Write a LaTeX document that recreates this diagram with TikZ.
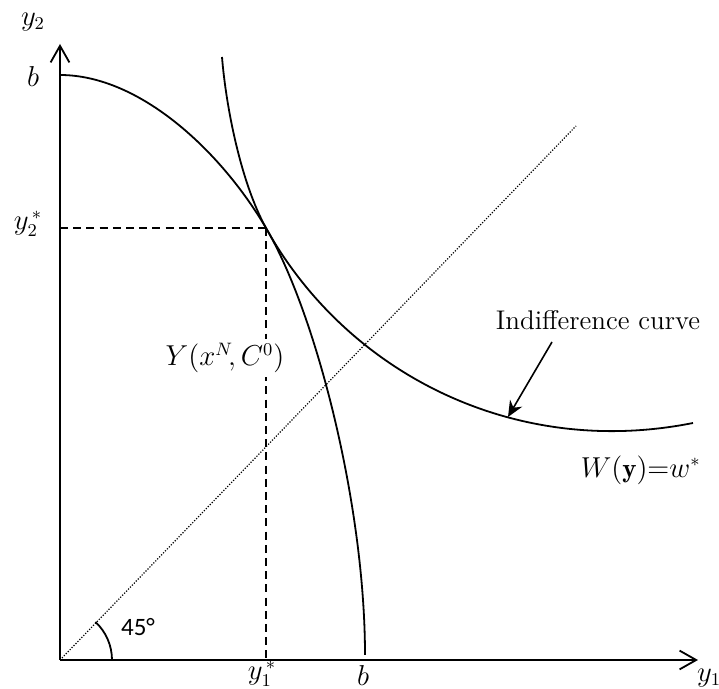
\documentclass[tikz,border=0pt]{standalone}
\usepackage{fontspec}
\newfontfamily\sansf{Carlito}
\usetikzlibrary{arrows.meta}
\begin{document}
\begin{tikzpicture}[x=0.5pt,y=-0.5pt,
  curve/.style={line width=0.9pt},
  axis/.style={line width=0.9pt,-{Straight Barb[length=8.3pt,width=9.4pt,line width=0.9pt]}},
  guide/.style={line width=0.8pt,dash pattern=on 4pt off 2.6pt},
  diag/.style={line width=0.6pt,dash pattern=on 0.6pt off 0.8pt},
  lbl/.style={inner sep=0pt,font=\fontsize{13.5}{15}\selectfont},
  txt/.style={inner sep=1pt,font=\fontsize{13.5}{15}\selectfont},
  ptr/.style={line width=0.8pt,-{Stealth[length=8pt,width=7pt]}}]
\path[use as bounding box] (0,0) rectangle (719,689);
% key points
\coordinate (O) at (60,660);
\coordinate (ytop) at (60,44);
\coordinate (xend) at (698,660);
\coordinate (bt) at (60,75);
\coordinate (bb) at (365,655);
\coordinate (T) at (266,228);
\coordinate (ys) at (60,228);
\coordinate (xs) at (266,660);
\coordinate (icA) at (222,57);
\coordinate (icB) at (693,423);
\coordinate (dend) at (576,126);
\coordinate (arrs) at (552,342);
\coordinate (arrt) at (508,417);
% axes
\draw[axis] (O) -- (ytop);
\draw[axis] (O) -- (xend);
% 45 degree line
\draw[diag] (O) -- (dend);
% dashed guides
\draw[guide] (ys) -- (T);
\draw[guide] (T) -- (xs);
% production possibility frontier
\draw[curve] (bt) .. controls (140,75) and (221,151.5) .. (T)
                  .. controls (316,313) and (365,505) .. (bb);
% indifference curve
\draw[curve] (icA) .. controls (226,107) and (241,183) .. (T)
                   .. controls (346,372) and (513,459) .. (icB);
% angle arc
\draw[line width=0.9pt] (O) ++(52,0) arc[start angle=0,end angle=-47,radius=52];
% labels
\node[lbl] (ly2) at (33,22) {$y_2$};
\node[lbl] (lbt) at (33,77) {$b$};
\node[lbl] (ly2s) at (28,224) {$y_2^{\,*}$};
\node[lbl] (ly1s) at (262,674) {$y_1^{\,*}$};
\node[lbl] (lbb) at (363,676) {$b$};
\node[lbl] (ly1) at (709,678) {$y_1$};
\node[font=\sansf\fontsize{12.5}{14}\selectfont,inner sep=1pt] (l45) at (138,627) {45°};
\node[txt,fill=white,inner sep=2pt] (lY) at (225,358) {$Y(x^N\!,C^0)$};
\node[txt] (lind) at (598,320) {Indifference curve};
\node[txt,anchor=east] (lW) at (703,470) {$W(\mathbf{y}){=}w^{*}$};
\draw[ptr] (arrs) -- (arrt);
\end{tikzpicture}
\end{document}
